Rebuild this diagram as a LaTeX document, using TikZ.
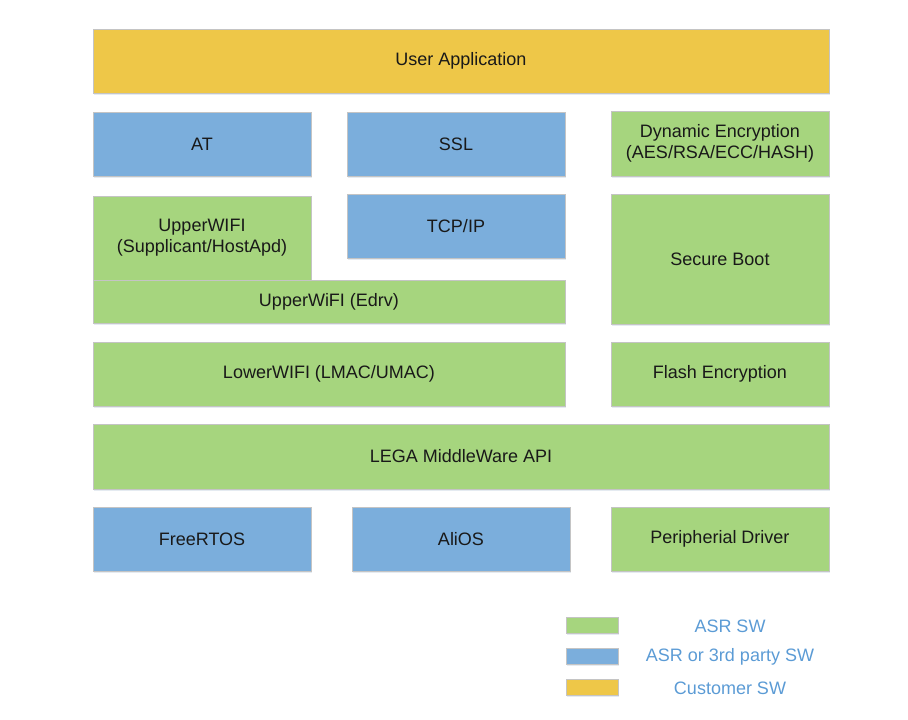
\documentclass[tikz,border=0pt]{standalone}
\usepackage{fontspec}
\setmainfont{Liberation Sans}
\usetikzlibrary{shadows}

\definecolor{asrgreen}{HTML}{A6D57E}
\definecolor{asrblue}{HTML}{7BAEDC}
\definecolor{custyellow}{HTML}{EEC748}
\definecolor{legendtext}{HTML}{5B9BD5}
\definecolor{edgegray}{HTML}{C4C4C4}

\begin{document}
\begin{tikzpicture}
                        [
                            x=0.75pt, y=-0.75pt,
                            block/.style = {draw=edgegray, shape=rectangle, minimum height=48pt, minimum width=163.5pt, inner sep=0pt, line width=0.75pt, align=center, font=\fontsize{13.5}{16}\selectfont, text=black!90, drop shadow={shadow xshift=0.6pt, shadow yshift=-1.5pt, opacity=0.2, fill=asrblue!60!gray}},
                            green/.style = {block, fill=asrgreen},
                            blue/.style = {block, fill=asrblue},
                            yellow/.style = {block, fill=custyellow},
                            wide/.style = {minimum width=552pt},
                            half/.style = {minimum width=354pt},
                            swatch/.style = {draw=edgegray, shape=rectangle, minimum height=12pt, minimum width=39pt, inner sep=0pt, line width=0.75pt, drop shadow={shadow xshift=0.6pt, shadow yshift=-1.2pt, opacity=0.2, fill=asrblue!60!gray}},
                            legend/.style = {text=legendtext, font=\fontsize{13.5}{16}\selectfont},
                        ]

                        \useasboundingbox (0,0) rectangle (908,719);

                        \node[yellow, wide] (0a) at (461,61)     {User Application};

                        \node[blue] (1a) at (202,144)     {AT};
                        \node[blue] (1b) at (456,144)     {SSL};
                        \node[green, minimum height=48.75pt] (1c) at (720,143.5)   {Dynamic Encryption\\(AES/RSA/ECC/HASH)};

                        \node[green, minimum height=63pt] (2a) at (202,238)   {UpperWIFI\\(Supplicant/HostApd)};
                        \node[blue] (2b) at (456,226)     {TCP/IP};
                        \node[green, minimum height=97.5pt] (2c) at (720,259)   {Secure Boot};
                        \node[green, half, minimum height=32.25pt] (3a) at (329,301.5)   {UpperWiFI (Edrv)};

                        \node[green, half] (4a) at (329,374)     {LowerWIFI (LMAC/UMAC)};
                        \node[green] (4c) at (720,374)     {Flash Encryption};

                        \node[green, wide, minimum height=48.75pt] (5a) at (461,456.5)   {LEGA MiddleWare API};

                        \node[blue] (6a) at (202,539)     {FreeRTOS};
                        \node[blue] (6b) at (461,539)     {AliOS};
                        \node[green] (6c) at (720,539)     {Peripherial Driver};

                        \node[swatch, fill=asrgreen] (k0) at (592,625)     {};
                        \node[swatch, fill=asrblue] (k1) at (592,656.5)   {};
                        \node[swatch, fill=custyellow] (k2) at (592,687.5)   {};
                        \node[legend] (t0) at (730,626)     {ASR SW};
                        \node[legend] (t1) at (730,657)     {ASR or 3rd party SW};
                        \node[legend] (t2) at (730,688)     {Customer SW};
                    \end{tikzpicture}
\end{document}
